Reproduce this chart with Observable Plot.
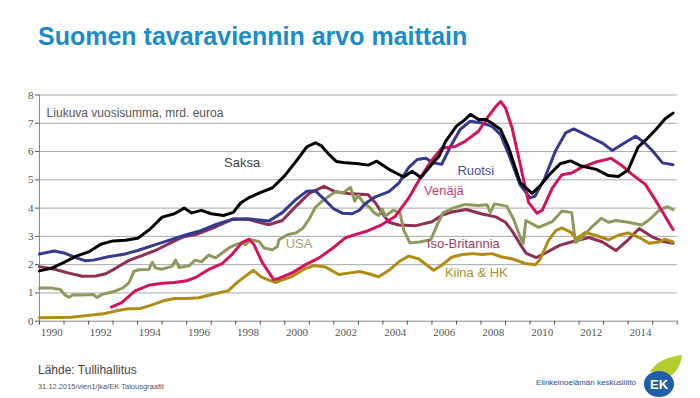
<!DOCTYPE html>
<html>
<head>
<meta charset="utf-8">
<script src="https://cdn.jsdelivr.net/npm/d3@7"></script>
<script src="https://cdn.jsdelivr.net/npm/@observablehq/plot@0.6"></script>
<style>
  html, body { margin: 0; padding: 0; background: #fff; }
  body { width: 700px; height: 398px; overflow: hidden; position: relative; font-family: "Liberation Sans", Arial, sans-serif; }
  #title { position: absolute; left: 38px; top: 22px; font-size: 25px; font-weight: bold; color: #1a8cc8; white-space: nowrap; }
  #chart { position: absolute; left: 0; top: 70px; }
  #source { position: absolute; left: 38px; top: 363px; font-size: 12px; color: #444; }
  #stamp { position: absolute; left: 38px; top: 382px; font-size: 7.5px; color: #555; }
  #org { position: absolute; left: 536px; top: 378px; font-size: 8px; color: #1d4f91; white-space: nowrap; }
  #logo { position: absolute; left: 638px; top: 355px; }
</style>
</head>
<body>
<div id="title">Suomen tavaraviennin arvo maittain</div>
<div id="chart"></div>
<div id="source">Lähde: Tullihallitus</div>
<div id="stamp">31.12.2015/vien1/jka/EK Talousgraafit</div>
<div id="org">Elinkeinoelämän keskusliitto</div>
<svg id="logo" width="46" height="43" viewBox="0 0 46 43">
  <path d="M12 17 C 18 6, 30 2, 44 0 C 43 10, 38 19, 29 23 C 24 19, 18 17, 12 17 Z" fill="#b7cd2f"/>
  <ellipse cx="21" cy="29" rx="15" ry="13" fill="#1f5ea8"/>
  <text x="21" y="34" font-size="13" font-weight="bold" fill="#fff" text-anchor="middle" font-family="Liberation Sans, Arial, sans-serif">EK</text>
</svg>
<script>
// ---- data: [year, value] in billions of euros (rolling annual sum) ----
const saksa = [[1990.0,1.78],[1990.5,1.88],[1991.0,2.08],[1991.5,2.3],[1992.0,2.45],[1992.5,2.72],[1993.0,2.84],[1993.5,2.86],[1994.0,2.93],[1994.5,3.25],[1995.0,3.68],[1995.5,3.8],[1995.9,4.0],[1996.2,3.83],[1996.6,3.92],[1997.0,3.8],[1997.5,3.74],[1997.9,3.85],[1998.2,4.18],[1998.5,4.35],[1999.0,4.55],[1999.5,4.72],[2000.0,5.15],[2000.5,5.7],[2000.9,6.17],[2001.25,6.31],[2001.5,6.2],[2001.8,5.9],[2002.1,5.65],[2002.5,5.6],[2003.0,5.57],[2003.4,5.52],[2003.75,5.66],[2004.25,5.37],[2004.85,5.1],[2005.2,5.3],[2005.55,5.08],[2006.0,5.55],[2006.3,5.85],[2006.55,6.35],[2007.0,6.9],[2007.35,7.13],[2007.57,7.32],[2007.9,7.13],[2008.2,7.13],[2008.45,7.0],[2008.8,6.78],[2009.13,6.13],[2009.6,4.9],[2010.08,4.52],[2010.42,4.8],[2010.83,5.22],[2011.25,5.58],[2011.65,5.67],[2012.05,5.5],[2012.7,5.37],[2013.2,5.15],[2013.6,5.12],[2014.0,5.35],[2014.4,6.15],[2014.8,6.48],[2015.15,6.8],[2015.5,7.15],[2015.83,7.36]];
const ruotsi = [[1990,2.38],[1990.6,2.48],[1991.05,2.4],[1991.5,2.24],[1991.85,2.14],[1992.2,2.16],[1992.8,2.28],[1993.5,2.38],[1994.0,2.5],[1994.7,2.7],[1995.3,2.87],[1995.95,3.05],[1996.5,3.18],[1997.2,3.42],[1997.85,3.6],[1998.5,3.62],[1999.35,3.54],[1999.9,3.84],[2000.45,4.3],[2000.9,4.6],[2001.25,4.61],[2001.6,4.32],[2002.0,3.97],[2002.35,3.82],[2002.75,3.8],[2003.05,3.93],[2003.3,4.17],[2003.7,4.4],[2004.25,4.58],[2004.65,4.88],[2005.05,5.43],[2005.4,5.72],[2005.75,5.76],[2006.05,5.6],[2006.4,5.55],[2006.75,6.17],[2007.15,6.78],[2007.55,7.07],[2008.05,7.01],[2008.45,6.89],[2008.8,6.6],[2009.13,5.9],[2009.6,4.82],[2010.0,4.36],[2010.2,4.42],[2010.6,5.06],[2011.05,6.05],[2011.45,6.66],[2011.78,6.8],[2012.12,6.66],[2012.53,6.48],[2012.93,6.31],[2013.35,6.04],[2013.75,6.25],[2014.3,6.54],[2014.65,6.33],[2015.0,6.02],[2015.4,5.6],[2015.83,5.53]];
const venaja = [[1992.93,0.5],[1993.35,0.66],[1993.9,1.07],[1994.45,1.27],[1995.0,1.34],[1995.5,1.37],[1996.0,1.43],[1996.4,1.56],[1996.9,1.83],[1997.45,2.04],[1997.85,2.36],[1998.25,2.78],[1998.55,2.9],[1998.75,2.7],[1999.08,2.08],[1999.55,1.47],[1999.75,1.51],[2000.3,1.71],[2000.85,2.0],[2001.4,2.24],[2001.95,2.58],[2002.47,2.95],[2002.9,3.07],[2003.4,3.2],[2003.95,3.41],[2004.5,3.7],[2005.05,4.35],[2005.6,5.18],[2006.0,5.7],[2006.4,6.12],[2006.95,6.18],[2007.35,6.36],[2007.9,6.72],[2008.3,7.24],[2008.6,7.59],[2008.8,7.77],[2009.0,7.54],[2009.27,6.83],[2009.6,5.55],[2009.94,4.2],[2010.28,3.82],[2010.5,3.93],[2010.9,4.7],[2011.3,5.18],[2011.7,5.24],[2012.1,5.44],[2012.65,5.62],[2013.3,5.76],[2013.75,5.5],[2014.15,5.2],[2014.7,4.84],[2015.1,4.3],[2015.5,3.72],[2015.83,3.24]];
const isoBritannia = [[1990,1.93],[1990.65,1.83],[1991.2,1.7],[1991.75,1.59],[1992.3,1.6],[1992.7,1.68],[1993.1,1.87],[1993.65,2.15],[1994.2,2.33],[1994.75,2.51],[1995.3,2.75],[1995.85,2.98],[1996.4,3.07],[1997.2,3.34],[1997.9,3.62],[1998.5,3.6],[1999.35,3.41],[1999.9,3.56],[2000.45,4.06],[2001.0,4.52],[2001.6,4.77],[2002.05,4.58],[2002.6,4.52],[2003.4,4.47],[2003.7,4.18],[2003.97,3.82],[2004.25,3.5],[2004.65,3.4],[2005.35,3.38],[2006.0,3.52],[2006.4,3.74],[2006.8,3.86],[2007.4,3.95],[2008.0,3.8],[2008.6,3.69],[2009.0,3.5],[2009.3,3.15],[2009.6,2.72],[2009.85,2.4],[2010.25,2.25],[2010.65,2.42],[2011.2,2.68],[2011.75,2.82],[2012.4,2.96],[2012.95,2.8],[2013.5,2.5],[2014.0,2.88],[2014.45,3.28],[2015.0,2.97],[2015.4,2.83],[2015.83,2.76]];
const usa = [[1990,1.17],[1990.5,1.17],[1990.85,1.12],[1991.05,0.92],[1991.2,0.85],[1991.35,0.93],[1991.75,0.93],[1992.2,0.94],[1992.35,0.84],[1992.55,0.95],[1993.0,1.04],[1993.4,1.18],[1993.65,1.36],[1993.85,1.76],[1994.05,1.82],[1994.45,1.83],[1994.6,2.08],[1994.73,1.88],[1995.0,1.84],[1995.4,1.94],[1995.55,2.16],[1995.7,1.9],[1996.1,1.96],[1996.35,2.16],[1996.6,2.1],[1996.9,2.34],[1997.18,2.24],[1997.45,2.41],[1997.72,2.59],[1998.0,2.71],[1998.2,2.76],[1998.4,2.71],[1998.6,2.88],[1998.95,2.82],[1999.15,2.59],[1999.5,2.53],[1999.7,2.64],[1999.76,2.88],[2000.15,3.07],[2000.45,3.12],[2000.75,3.3],[2001.0,3.62],[2001.25,4.03],[2001.5,4.23],[2001.8,4.42],[2002.1,4.6],[2002.35,4.53],[2002.68,4.73],[2002.85,4.25],[2003.0,4.45],[2003.22,4.17],[2003.45,4.03],[2003.65,3.83],[2003.83,3.74],[2003.97,3.97],[2004.1,3.72],[2004.44,3.93],[2004.7,3.82],[2004.85,3.22],[2005.1,2.77],[2005.5,2.8],[2005.95,2.88],[2006.2,3.38],[2006.45,3.83],[2006.85,4.0],[2007.35,4.13],[2007.9,4.09],[2008.25,4.12],[2008.38,3.85],[2008.55,4.15],[2009.05,4.07],[2009.35,3.57],[2009.6,2.97],[2009.72,2.75],[2009.83,3.56],[2010.35,3.32],[2010.9,3.52],[2011.3,3.9],[2011.7,3.84],[2011.85,2.78],[2012.1,2.93],[2012.5,3.32],[2012.9,3.64],[2013.2,3.5],[2013.5,3.56],[2014.0,3.5],[2014.55,3.4],[2014.85,3.58],[2015.25,3.91],[2015.6,4.05],[2015.83,3.95]];
const kiinaHK = [[1990,0.12],[1990.7,0.13],[1991.3,0.14],[1991.95,0.2],[1992.6,0.26],[1993.15,0.37],[1993.6,0.44],[1994.1,0.45],[1994.5,0.55],[1995.05,0.72],[1995.5,0.8],[1996.0,0.8],[1996.5,0.83],[1997.15,0.97],[1997.7,1.08],[1998.1,1.4],[1998.5,1.66],[1998.72,1.8],[1999.05,1.56],[1999.6,1.37],[2000.3,1.58],[2000.85,1.87],[2001.2,1.97],[2001.65,1.92],[2002.2,1.65],[2002.6,1.7],[2003.05,1.76],[2003.42,1.68],[2003.83,1.57],[2004.25,1.8],[2004.65,2.1],[2005.05,2.3],[2005.45,2.21],[2005.8,1.98],[2006.07,1.8],[2006.4,1.98],[2006.82,2.27],[2007.25,2.36],[2007.65,2.39],[2008.05,2.36],[2008.45,2.39],[2008.85,2.27],[2009.3,2.2],[2009.8,2.04],[2010.22,2.0],[2010.42,2.2],[2010.75,2.85],[2011.05,3.2],[2011.3,3.3],[2011.65,3.15],[2011.9,2.92],[2012.25,3.14],[2012.65,3.04],[2013.2,2.88],[2013.6,3.04],[2014.0,3.12],[2014.45,2.96],[2014.85,2.76],[2015.25,2.8],[2015.5,2.9],[2015.83,2.8]];

const yTicks = [0, 1, 2, 3, 4, 5, 6, 7, 8];
const tickYears = d3.range(1990, 2017);
const labelYears = [1990, 1992, 1994, 1996, 1998, 2000, 2002, 2004, 2006, 2008, 2010, 2012, 2014];

// series in drawing order, with style
const series = [
  {name: "Iso-Britannia", data: isoBritannia, color: "#8e2f55"},
  {name: "USA", data: usa, color: "#8e9a5c"},
  {name: "Kiina & HK", data: kiinaHK, color: "#b08c14"},
  {name: "Ruotsi", data: ruotsi, color: "#343a8f"},
  {name: "Venäjä", data: venaja, color: "#d3135e"},
  {name: "Saksa", data: saksa, color: "#000000"}
];

// direct labels (anchor in data coordinates)
const labels = [
  {text: "Saksa", year: 1998.26, value: 5.61, color: "#444444"},
  {text: "USA", year: 2000.58, value: 2.73, color: "#9ba275"},
  {text: "Ruotsi", year: 2007.79, value: 5.33, color: "#4a4d9a"},
  {text: "Venäjä", year: 2006.49, value: 4.62, color: "#cf3b78"},
  {text: "Iso-Britannia", year: 2007.28, value: 2.75, color: "#9a4068"},
  {text: "Kiina & HK", year: 2007.81, value: 1.72, color: "#a88e2e"}
];

const rowsOf = s => s.data.map(([year, value]) => ({year, value}));

const marks = [
  Plot.ruleY(yTicks.filter(d => d > 0), {stroke: "#a8a8a8", strokeWidth: 1}),
  Plot.ruleY([0], {stroke: "#8a8a8a", strokeWidth: 1}),
  Plot.ruleX([1990], {stroke: "#8a8a8a", strokeWidth: 1}),
  Plot.axisY({ticks: yTicks, tickSize: 4, tickPadding: 2, label: null, fontSize: 11, fontFamily: "Liberation Serif, serif"}),
  Plot.axisX({ticks: tickYears, tickSize: 4, tickFormat: () => "", label: null}),
  Plot.axisX({ticks: labelYears.map(y => y + 0.5), tickSize: 0, tickPadding: 7, tickFormat: d => String(Math.floor(d)), label: null, fontSize: 11, fontFamily: "Liberation Serif, serif"})
];
for (const s of series) {
  marks.push(Plot.line(rowsOf(s), {x: "year", y: "value", stroke: s.color, strokeWidth: 3, strokeLinejoin: "round", strokeLinecap: "round"}));
}
for (const l of labels) {
  marks.push(Plot.text([l], {x: "year", y: "value", text: "text", fill: l.color, fontSize: 13, fontFamily: "Liberation Sans, Arial, sans-serif"}));
}
marks.push(Plot.text(["Liukuva vuosisumma, mrd. euroa"], {x: 1990.29, y: 7.37, text: d => d, textAnchor: "start", fill: "#555", fontSize: 12, fontFamily: "Liberation Sans, Arial, sans-serif"}));

const chart = Plot.plot({
  width: 700,
  height: 280,
  marginLeft: 39,
  marginRight: 23.3,
  marginTop: 24.5,
  marginBottom: 29.3,
  x: {domain: [1990, 2016]},
  y: {domain: [0, 8]},
  style: {background: "transparent", color: "#555", overflow: "visible"},
  marks
});
document.getElementById("chart").append(chart);
</script>
</body>
</html>
